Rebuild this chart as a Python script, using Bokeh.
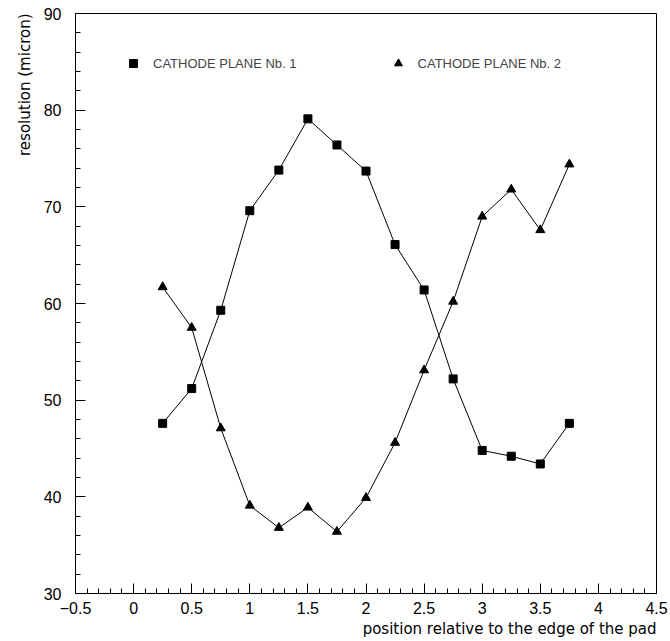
from bokeh.plotting import figure
from bokeh.models import (FixedTicker, Legend, LegendItem, Title, ColumnDataSource)
from bokeh.embed import file_html
from bokeh.resources import INLINE

# data
position = [0.25, 0.5, 0.75, 1.0, 1.25, 1.5, 1.75, 2.0, 2.25, 2.5, 2.75, 3.0, 3.25, 3.5, 3.75]
plane1 = [47.6, 51.2, 59.3, 69.6, 73.8, 79.1, 76.4, 73.7, 66.1, 61.4, 52.2, 44.8, 44.2, 43.4, 47.6]
plane2 = [61.7, 57.5, 47.1, 39.1, 36.8, 38.9, 36.4, 39.9, 45.6, 53.1, 60.2, 69.0, 71.8, 67.6, 74.4]
series_names = ["CATHODE PLANE Nb. 1", "CATHODE PLANE Nb. 2"]
x_ticks = [-0.5, 0, 0.5, 1, 1.5, 2, 2.5, 3, 3.5, 4, 4.5]
x_tick_labels = ["\u22120.5", "0", "0.5", "1", "1.5", "2", "2.5", "3", "3.5", "4", "4.5"]
y_ticks = [30, 40, 50, 60, 70, 80, 90]
y_tick_labels = ["30", "40", "50", "60", "70", "80", "90"]
x_title = "position relative to the edge of the pad"
y_title = "resolution (micron)"

FONT = "Liberation Sans"
TFONT = "DejaVu Sans"

p = figure(width=670, height=641, output_backend="svg", toolbar_location=None,
           x_range=(-0.5, 4.5), y_range=(30, 90),
           min_border_left=75, min_border_right=14, min_border_top=13, min_border_bottom=48)
p.xgrid.visible = False
p.ygrid.visible = False
p.outline_line_color = "black"
p.outline_line_width = 1
p.outline_line_alpha = 1.0
p.background_fill_color = "white"
p.border_fill_color = "white"

x_minor = [round(-0.5 + 0.1 * i, 2) for i in range(51)]
y_minor = [30 + 2 * i for i in range(31)]

p.xaxis.ticker = FixedTicker(ticks=x_ticks, minor_ticks=x_minor)
p.yaxis.ticker = FixedTicker(ticks=y_ticks, minor_ticks=y_minor)
p.xaxis.major_label_overrides = {t: l for t, l in zip(x_ticks, x_tick_labels)}
p.yaxis.major_label_overrides = {t: l for t, l in zip(y_ticks, y_tick_labels)}

for ax in (p.xaxis[0], p.yaxis[0]):
    ax.major_tick_in = 10
    ax.major_tick_out = 0
    ax.minor_tick_in = 5
    ax.minor_tick_out = 0
    ax.axis_line_color = "black"
    ax.major_tick_line_color = "black"
    ax.minor_tick_line_color = "black"
    ax.major_label_text_font = FONT
    ax.major_label_text_font_size = "16px"
    ax.major_label_text_color = "black"
p.xaxis.major_label_standoff = 8
p.yaxis.major_label_standoff = 14

src1 = ColumnDataSource(dict(x=position, y=plane1))
src2 = ColumnDataSource(dict(x=position, y=plane2))

p.line("x", "y", source=src1, line_color="black", line_width=1)
r1 = p.scatter("x", "y", source=src1, marker="square", size=8, color="black")
p.line("x", "y", source=src2, line_color="black", line_width=1)
r2 = p.scatter("x", "y", source=src2, marker="triangle", size=9, color="black")

legend = Legend(items=[LegendItem(label=series_names[0], renderers=[r1]),
                       LegendItem(label=series_names[1], renderers=[r2])],
                orientation="horizontal", location=(48, 520),
                border_line_color=None, background_fill_alpha=0,
                label_text_font=FONT, label_text_font_size="13px",
                glyph_width=20, glyph_height=20, label_standoff=10,
                spacing=91, padding=0, margin=0)
p.add_layout(legend, "center")

p.add_layout(Title(text=x_title, align="right", text_font=TFONT, text_font_size="15px",
                   text_font_style="normal", text_color="black", standoff=2, offset=0), "below")
p.add_layout(Title(text=y_title, align="right", text_font=TFONT, text_font_size="15px",
                   text_font_style="normal", text_color="black", standoff=14, offset=0), "left")

open("out.html", "w").write(file_html(p, INLINE))
